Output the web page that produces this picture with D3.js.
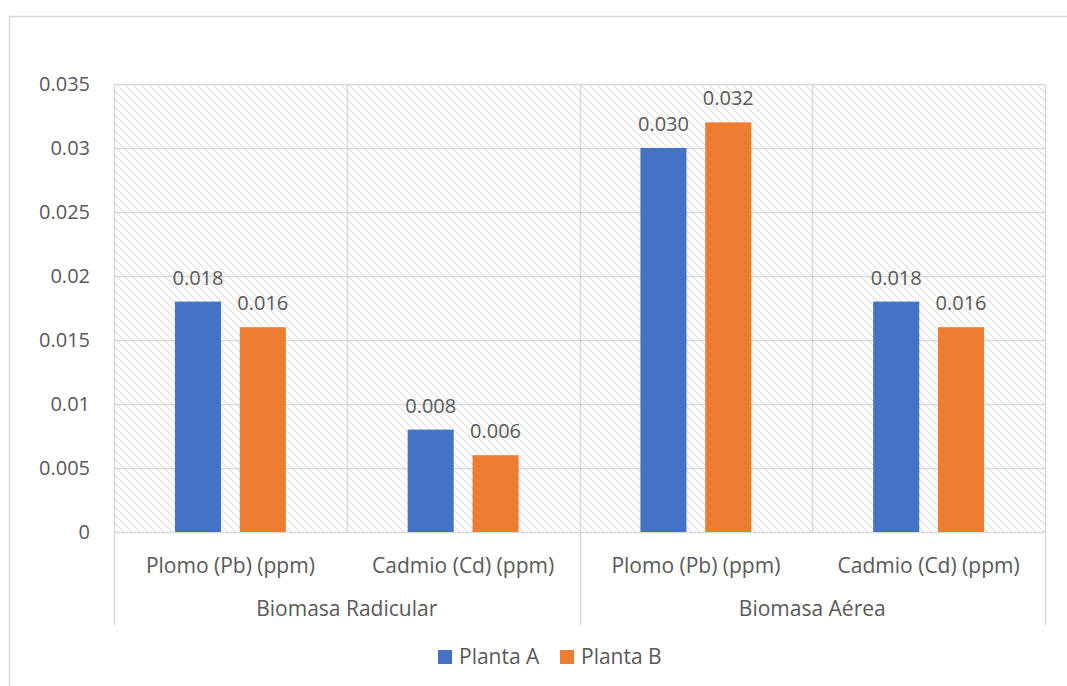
<!DOCTYPE html>
<html>
<head>
<meta charset="utf-8">
<script src="https://cdn.jsdelivr.net/npm/d3@7"></script>
<style>
  html, body { margin: 0; padding: 0; background: #fff; }
  svg { display: block; }
  text { font-family: "Open Sans", "Noto Sans", sans-serif; fill: #595959; }
</style>
</head>
<body>
<svg id="chart" width="1067" height="686"></svg>
<script>
// Heavy-metal content (ppm) by biomass fraction and plant
const groups = ["Biomasa Radicular", "Biomasa Aérea"];
const categories = ["Plomo (Pb) (ppm)", "Cadmio (Cd) (ppm)"];
const series = ["Planta A", "Planta B"];
const plantaA = [0.018, 0.008, 0.030, 0.018];
const plantaB = [0.016, 0.006, 0.032, 0.016];
const yTicks = [0, 0.005, 0.01, 0.015, 0.02, 0.025, 0.03, 0.035];
const yTickLabels = ["0", "0.005", "0.01", "0.015", "0.02", "0.025", "0.03", "0.035"];
const colors = ["#4472C4", "#ED7D31"];

const rows = [];
groups.forEach((g, gi) => categories.forEach((c, ci) => {
  const i = gi * categories.length + ci;
  rows.push({ key: g + "|" + c, group: g, cat: c, values: [plantaA[i], plantaB[i]] });
}));

const svg = d3.select("#chart");
const gridColor = "#d9d9d9";

// outer chart frame
svg.append("rect")
  .attr("x", 9.5).attr("y", 16.5).attr("width", 1070).attr("height", 700)
  .attr("fill", "none").attr("stroke", gridColor).attr("stroke-width", 1.5);

const plotL = 114, plotR = 1045, plotT = 84, plotB = 532;

// diagonal hatch used as the plot area fill
const defs = svg.append("defs");
const pat = defs.append("pattern")
  .attr("id", "hatch").attr("patternUnits", "userSpaceOnUse")
  .attr("width", 8).attr("height", 8);
pat.append("path")
  .attr("d", "M0,0 L8,8 M-2,6 L2,10 M6,-2 L10,2")
  .attr("stroke", "#dedede").attr("stroke-width", 1.1).attr("fill", "none");

const y = d3.scaleLinear().domain([0, 0.035]).range([plotB, plotT]);
const x0 = d3.scaleBand().domain(rows.map(d => d.key)).range([plotL, plotR]).padding(0);
const x1 = d3.scaleBand().domain(series).range([0, x0.bandwidth()])
  .paddingInner(0.29).paddingOuter(0.94);

svg.append("rect")
  .attr("x", plotL).attr("y", plotT).attr("width", plotR - plotL).attr("height", plotB - plotT)
  .attr("fill", "url(#hatch)");

// horizontal gridlines
svg.append("g").selectAll("line").data(yTicks).join("line")
  .attr("x1", plotL).attr("x2", plotR)
  .attr("y1", d => Math.round(y(d)) + 0.5).attr("y2", d => Math.round(y(d)) + 0.5)
  .attr("stroke", gridColor).attr("stroke-width", 1.5);

// vertical separators between categories (inside plot)
const seps = rows.map(d => x0(d.key)).concat([plotR]);
svg.append("g").selectAll("line").data(seps).join("line")
  .attr("x1", d => Math.round(d) + 0.5).attr("x2", d => Math.round(d) + 0.5)
  .attr("y1", plotT).attr("y2", plotB)
  .attr("stroke", gridColor).attr("stroke-width", 1.5);

// group boundaries extend through the category axis rows
const groupEdges = [plotL, x0(rows[2].key), plotR];
svg.append("g").selectAll("line").data(groupEdges).join("line")
  .attr("x1", d => Math.round(d) + 0.5).attr("x2", d => Math.round(d) + 0.5)
  .attr("y1", plotB).attr("y2", 625)
  .attr("stroke", gridColor).attr("stroke-width", 1.5);

// y-axis tick labels
svg.append("g").selectAll("text").data(yTicks).join("text")
  .attr("x", 90).attr("y", d => y(d))
  .attr("dy", "0.35em").attr("text-anchor", "end")
  .attr("font-size", 20)
  .text((d, i) => yTickLabels[i]);

// bars
const barG = svg.append("g").selectAll("g").data(rows).join("g")
  .attr("transform", d => `translate(${x0(d.key)},0)`);
barG.selectAll("rect").data(d => d.values.map((v, i) => ({ s: series[i], v, i }))).join("rect")
  .attr("x", d => x1(d.s)).attr("width", x1.bandwidth())
  .attr("y", d => y(d.v)).attr("height", d => y(0) - y(d.v))
  .attr("fill", d => colors[d.i]);

// value labels
barG.selectAll("text").data(d => d.values.map((v, i) => ({ s: series[i], v, i }))).join("text")
  .attr("x", d => x1(d.s) + x1.bandwidth() / 2)
  .attr("y", d => y(d.v) - 17)
  .attr("text-anchor", "middle").attr("font-size", 20)
  .text(d => d3.format(".3f")(d.v));

// category labels
svg.append("g").selectAll("text").data(rows).join("text")
  .attr("x", d => x0(d.key) + x0.bandwidth() / 2).attr("y", 566)
  .attr("dy", "0.35em").attr("text-anchor", "middle").attr("font-size", 21)
  .text(d => d.cat);

// group labels
svg.append("g").selectAll("text").data(groups).join("text")
  .attr("x", (d, i) => (groupEdges[i] + groupEdges[i + 1]) / 2).attr("y", 609)
  .attr("dy", "0.35em").attr("text-anchor", "middle").attr("font-size", 21)
  .text(d => d);

// legend
const legendX = [438, 560];
const lg = svg.append("g").selectAll("g").data(series).join("g")
  .attr("transform", (d, i) => `translate(${legendX[i]},650)`);
lg.append("rect").attr("width", 14).attr("height", 14).attr("fill", (d, i) => colors[i]);
lg.append("text").attr("x", 21).attr("y", 7).attr("dy", "0.35em")
  .attr("font-size", 21).text(d => d);
</script>
</body>
</html>
